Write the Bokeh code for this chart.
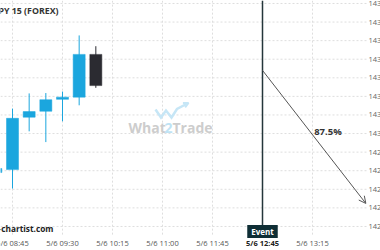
from bokeh.plotting import figure
from bokeh.models import Range1d, Arrow, OpenHead, Label, ColumnDataSource
from bokeh.embed import file_html
from bokeh.resources import INLINE

# ---- data (time in minutes since midnight, prices in JPY) ----
times = [510, 525, 540, 555, 570, 585, 600]
opens = [142.895, 142.903, 143.044, 143.060, 143.092, 143.098, 143.213]
highs = [142.911, 143.067, 143.108, 143.109, 143.113, 143.264, 143.235]
lows = [142.887, 142.852, 143.006, 142.977, 143.033, 143.076, 143.123]
closes = [142.906, 143.041, 143.059, 143.091, 143.098, 143.213, 143.129]

tick_times = [525, 570, 615, 660, 705, 750, 795]
tick_labels = ["5/6 08:45", "5/6 09:30", "5/6 10:15", "5/6 11:00",
               "5/6 11:45", "", "5/6 13:15"]
price_ticks = [143.35, 143.30, 143.25, 143.20, 143.15, 143.10, 143.05,
               143.00, 142.95, 142.90, 142.85, 142.80, 142.75]

event_time = 750
event_label = "5/6 12:45"
event_price = 143.170
target_time = 843
target_price = 142.812
probability = "87.5%"
title = "USDJPY 15 (FOREX)"
footer = "www.forex-chartist.com"

BULL = "#1ba6de"
BEAR = "#2b2b31"
GRID = "#dedede"
FONT = "Open Sans"
W, H = 380, 250

# visible window (the whole canvas is the plotting frame)
X_START, X_END = 514.2, 856.2
Y_START, Y_END = 142.6853, 143.358
PLOT_RIGHT = 843.6     # where the price area ends (labels to the right)
PLOT_BOTTOM = 142.728  # where the price area ends (time labels below)


def px_x(px):
    return X_START + px * (X_END - X_START) / W


def px_y(py):
    return Y_END - py * (Y_END - Y_START) / H


colors = [BULL if c >= o else BEAR for o, c in zip(opens, closes)]
src = ColumnDataSource(dict(
    x=times, high=highs, low=lows,
    top=[max(o, c) for o, c in zip(opens, closes)],
    bottom=[min(o, c) for o, c in zip(opens, closes)],
    color=colors))

p = figure(width=W, height=H,
           x_range=Range1d(X_START, X_END), y_range=Range1d(Y_START, Y_END),
           x_axis_location=None, y_axis_location=None,
           toolbar_location=None, output_backend="svg",
           min_border=0, outline_line_color=None)
p.min_border_left = p.min_border_right = 0
p.min_border_top = p.min_border_bottom = 0
p.xgrid.visible = False
p.ygrid.visible = False
p.background_fill_color = "white"
p.border_fill_color = "white"

# grid lines
p.segment(x0=[X_START] * len(price_ticks), x1=[PLOT_RIGHT] * len(price_ticks),
          y0=price_ticks, y1=price_ticks, line_color=GRID, line_width=1,
          line_dash="2 2")
p.segment(x0=tick_times, x1=tick_times, y0=[PLOT_BOTTOM] * len(tick_times),
          y1=[Y_END] * len(tick_times), line_color=GRID, line_width=1,
          line_dash="2 2")

# watermark logo (zigzag with rising arrow) and name
logo_px = [(155, 109), (160.5, 117), (165.5, 110), (171, 117), (176.5, 108.5),
           (186, 103.5)]
p.line([px_x(a) for a, b in logo_px], [px_y(b) for a, b in logo_px],
       line_color="#c6e6f6", line_width=2.5, line_join="miter")
p.add_layout(Arrow(end=OpenHead(size=5, line_color="#c6e6f6", line_width=2),
                   x_start=px_x(181), y_start=px_y(106),
                   x_end=px_x(188), y_end=px_y(102.5),
                   line_color="#c6e6f6", line_width=0))
wm_y = 123
for txt, xx, col in (("What", 128, "#cdcdcd"), ("2", 164, "#bfe3f4"),
                     ("Trade", 172, "#cdcdcd")):
    p.add_layout(Label(x=xx, y=wm_y, x_units="screen", y_units="screen",
                       text=txt, text_align="left", text_baseline="middle",
                       text_font=FONT, text_font_style="bold",
                       text_font_size="14px", text_color=col))

# candles
p.segment(x0="x", x1="x", y0="low", y1="high", color="color",
          line_width=1, source=src)
p.vbar(x="x", width=10.8, top="top", bottom="bottom", fill_color="color",
       line_color="color", line_width=0.5, source=src)

# price labels (right side, cut by the window edge as in the original)
for v in price_ticks:
    p.add_layout(Label(x=368, y=v, x_units="screen", text=f"{v:.3f}",
                       text_baseline="middle", text_font=FONT,
                       text_font_size="7.5px", text_color="#666666"))

# time labels
for t, l in zip(tick_times, tick_labels):
    if l:
        p.add_layout(Label(x=t, y=8, y_units="screen", text=l,
                           text_align="center", text_baseline="middle",
                           text_font=FONT, text_font_size="7.5px",
                           text_color="#555555"))

# event line and arrow
p.segment(x0=[event_time], x1=[event_time], y0=[PLOT_BOTTOM], y1=[Y_END],
          line_color="#24363b", line_width=1.5)
p.add_layout(Arrow(end=OpenHead(size=7, line_color="#555555", line_width=1),
                   x_start=event_time, y_start=event_price,
                   x_end=target_time, y_end=target_price,
                   line_color="#555555", line_width=1))
p.add_layout(Label(x=(event_time + target_time) / 2,
                   y=(event_price + target_price) / 2,
                   text=probability, text_align="left", text_baseline="middle",
                   y_offset=5, text_font=FONT, text_font_style="bold",
                   text_font_size="9.5px", text_color="#333333"))

# event box and bold time label
p.add_layout(Label(x=event_time, y=19, y_units="screen", text="Event",
                   text_align="center", text_baseline="middle",
                   text_font=FONT, text_font_style="bold",
                   text_font_size="8px", text_color="white",
                   background_fill_color="#0f2e35",
                   padding=dict(left=4, right=4, top=1, bottom=1)))
p.add_layout(Label(x=event_time, y=8, y_units="screen", text=event_label,
                   text_align="center", text_baseline="middle",
                   text_font=FONT, text_font_style="bold",
                   text_font_size="7.5px", text_color="#222222"))

# title and footer
p.add_layout(Label(x=58, y=240, x_units="screen", y_units="screen",
                   text=title, text_align="right", text_baseline="middle",
                   text_font=FONT, text_font_style="bold",
                   text_font_size="8.8px", text_color="#333333"))
p.add_layout(Label(x=53, y=22, x_units="screen", y_units="screen",
                   text=footer, text_align="right", text_baseline="middle",
                   text_font=FONT, text_font_style="bold",
                   text_font_size="8.3px", text_color="#222222"))

open("out.html", "w").write(file_html(p, INLINE))
